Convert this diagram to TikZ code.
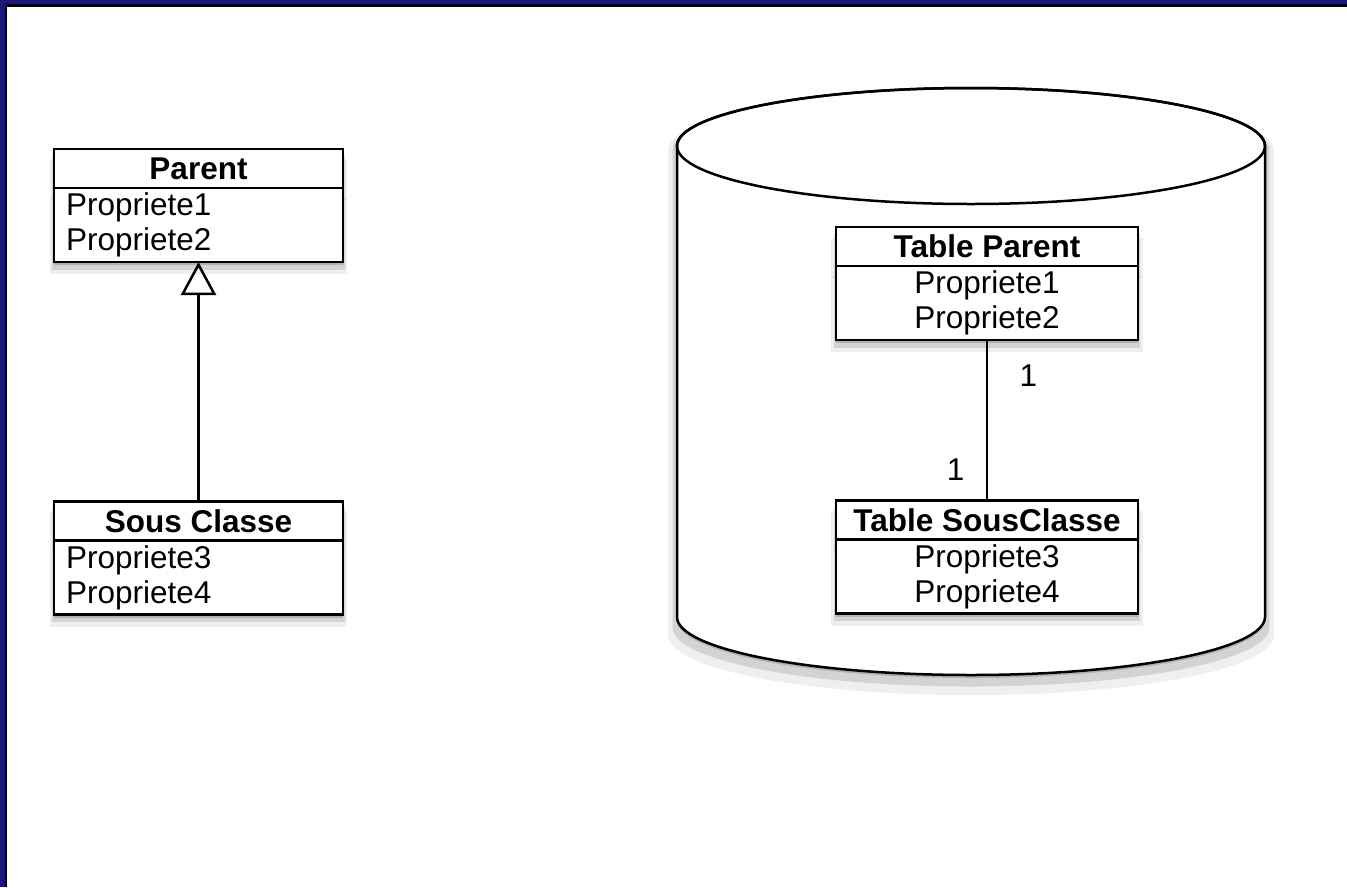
\documentclass[tikz,border=0pt]{standalone}
\usepackage{fontspec}
\setmainfont{Liberation Sans}
\usetikzlibrary{positioning,arrows.meta,shadows}
\definecolor{frameblue}{RGB}{27,22,120}
\tikzset{
	softshadow/.style={
		drop shadow={shadow xshift=0pt,shadow yshift=-3pt,opacity=.4},
		drop shadow={shadow xshift=0pt,shadow yshift=-7pt,shadow scale=1.015,opacity=.25},
		drop shadow={shadow xshift=0pt,shadow yshift=-11pt,shadow scale=1.03,opacity=.12}},
	every node/.style={font=\fontsize{31.5}{35}\selectfont},
	classhead/.style={draw,line width=2.5pt,fill=white,outer sep=0pt,inner sep=0pt,
		minimum height=39pt,font=\fontsize{31.5}{35}\selectfont\bfseries,softshadow},
	classbody/.style={draw,line width=2.5pt,fill=white,outer sep=0pt,inner xsep=12pt,
		inner ysep=0pt,minimum height=74pt,softshadow},
	tablebody/.style={classbody,text width=278pt,align=center},
}
\begin{document}
\begin{tikzpicture}[x=1pt,y=-1pt]
			\useasboundingbox (0,0) rectangle (1347,887);
			\fill[frameblue] (0,0) rectangle (1347,887);
			\fill[black] (5,4) rectangle (1347,887);
			\fill[white] (7,7) rectangle (1347,887);
			% classes
			\node[classhead,minimum width=289pt] (parentHead) at (198.5,168.5) {Parent};
			\node[classbody,below=0pt of parentHead,text width=265pt,align=left] (parentAttr) {Propriete1\\Propriete2};
			\node[classhead,minimum width=289pt] (sousHead) at (198.5,521) {Sous Classe};
			\node[classbody,below=0pt of sousHead,text width=265pt,align=left] (sousAttr) {Propriete3\\Propriete4};
			\draw[-{Triangle[open,length=33pt,width=35pt]},line width=2.5pt] (sousHead) -- (parentAttr);
			% base
			\draw[line width=2.5pt,fill=white,softshadow]
			(677,146) -- (677,617) arc[start angle=180,end angle=0,x radius=294,y radius=58]
			-- (1265,146) arc[start angle=0,end angle=-180,x radius=294,y radius=58] -- cycle;
			\draw[line width=2.5pt] (971,146) ellipse[x radius=294,y radius=58];
			\node[classhead,minimum width=302pt] (tParentHead) at (987,246.5) {Table Parent};
			\node[tablebody,below=0pt of tParentHead] (tParentAttr) {Propriete1\\Propriete2};
			\node[classhead,minimum width=302pt] (tSousHead) at (987,520) {Table SousClasse};
			\node[tablebody,below=0pt of tSousHead] (tSousAttr) {Propriete3\\Propriete4};
			\draw[line width=2.5pt] (tParentAttr) -- (tSousHead)
			node[pos=.22,right=28pt]{1} node[pos=.81,left=18pt]{1};
		\end{tikzpicture}
\end{document}
